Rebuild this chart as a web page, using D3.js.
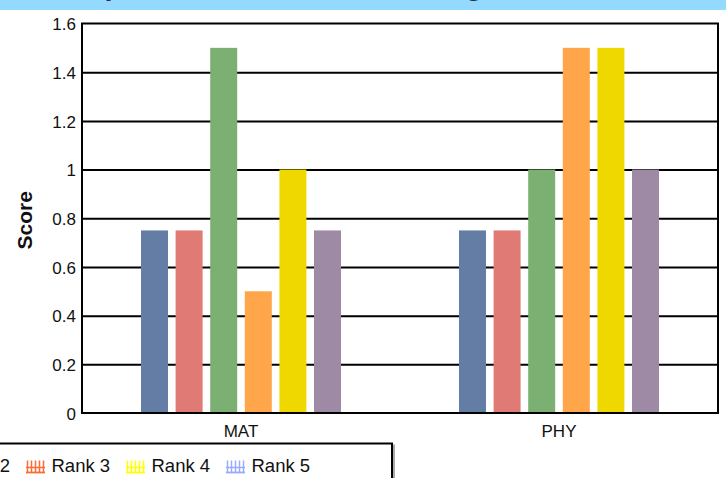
<!DOCTYPE html>
<html>
<head>
<meta charset="utf-8">
<script src="https://cdn.jsdelivr.net/npm/d3@7"></script>
<style>
  html, body { margin: 0; padding: 0; background: #fff; overflow: hidden; }
  svg { display: block; font-family: "Liberation Sans", Arial, sans-serif; }
</style>
</head>
<body>
<svg id="chart" width="726" height="478"></svg>
<script>
// ---- data ----
const categories = ["MAT", "PHY"];
const seriesNames = ["Rank 0", "Rank 1", "Rank 2", "Rank 3", "Rank 4", "Rank 5"];
const rank0 = [0.75, 0.75];
const rank1 = [0.75, 0.75];
const rank2 = [1.5, 1.0];
const rank3 = [0.5, 1.5];
const rank4 = [1.0, 1.5];
const rank5 = [0.75, 1.0];
const seriesValues = [rank0, rank1, rank2, rank3, rank4, rank5];
const yTicks = [0, 0.2, 0.4, 0.6, 0.8, 1, 1.2, 1.4, 1.6];
const yTickLabels = ["0", "0.2", "0.4", "0.6", "0.8", "1", "1.2", "1.4", "1.6"];
const barColors = ["#647da4", "#e07a74", "#7cb072", "#ffa64a", "#eed800", "#9e8aa4"];
const legendColors = ["#66cc66", "#cc66cc", "#33cccc", "#ff6a33", "#ffff00", "#9aaaff"];
const titleText = "Comparison of Student Rankings";
const yAxisTitle = "Score";

// ---- layout ----
const svg = d3.select("#chart");
const W = 726, H = 478;
const plot = { left: 82, right: 718, top: 23.5, bottom: 413 };

// title band (mostly cut off at the top)
svg.append("rect").attr("x", 0).attr("y", 0).attr("width", W).attr("height", 10)
  .attr("fill", "#94d9ff");
svg.append("text").attr("x", 40).attr("y", -5.5)
  .attr("font-size", 29).attr("font-weight", "bold").attr("fill", "#333")
  .text(titleText);

const x0 = d3.scaleBand().domain(categories).range([plot.left, plot.right]).padding(0);
const x1 = d3.scaleBand().domain(seriesNames).range([59, 259]).paddingInner(0.22).paddingOuter(0);
const y = d3.scaleLinear().domain([0, 1.6]).range([plot.bottom, plot.top]);

// y tick labels
const yAxis = d3.axisLeft(y).tickValues(yTicks)
  .tickFormat((d, i) => yTickLabels[i])
  .tickSize(0).tickPadding(6);
const gy = svg.append("g").attr("transform", `translate(${plot.left},0)`).call(yAxis);
gy.select(".domain").remove();
gy.selectAll("text").attr("font-size", 17).attr("fill", "#111")
  .attr("font-family", "Liberation Sans, Arial, sans-serif")
  .attr("x", -6).attr("dy", "0.36em");

// gridlines
const grid = d3.axisLeft(y).tickValues(yTicks.slice(1, -1))
  .tickSize(-(plot.right - plot.left)).tickFormat("");
const gg = svg.append("g").attr("transform", `translate(${plot.left},0)`).call(grid);
gg.select(".domain").remove();
gg.selectAll("line").attr("stroke", "#000").attr("stroke-width", 2);

// bars
const groups = svg.append("g").selectAll("g").data(categories).join("g")
  .attr("transform", d => `translate(${x0(d)},0)`);
groups.selectAll("rect")
  .data((c, ci) => seriesNames.map((s, si) => ({ s, si, v: seriesValues[si][ci] })))
  .join("rect")
  .attr("x", d => x1(d.s))
  .attr("width", x1.bandwidth())
  .attr("y", d => y(d.v))
  .attr("height", d => y(0) - y(d.v))
  .attr("fill", d => barColors[d.si]);

// plot border
svg.append("rect")
  .attr("x", plot.left).attr("y", plot.top)
  .attr("width", plot.right - plot.left).attr("height", plot.bottom - plot.top)
  .attr("fill", "none").attr("stroke", "#000").attr("stroke-width", 2);

// x axis labels
const xAxis = d3.axisBottom(x0).tickSize(0).tickPadding(0);
const gx = svg.append("g").attr("transform", `translate(0,${plot.bottom})`).call(xAxis);
gx.select(".domain").remove();
gx.selectAll("text").attr("font-size", 17).attr("fill", "#111")
  .attr("font-family", "Liberation Sans, Arial, sans-serif")
  .attr("y", 24).attr("dy", 0);

// y axis title
svg.append("text")
  .attr("transform", `translate(32,${(plot.top + plot.bottom) / 2 + 2}) rotate(-90)`)
  .attr("text-anchor", "middle")
  .attr("font-size", 21).attr("font-weight", "bold").attr("fill", "#111")
  .text(yAxisTitle);

// legend (partially outside the window)
const legendRight = 392, legendTop = 443.5;
svg.append("rect").attr("x", -330 + 2).attr("y", legendTop + 2)
  .attr("width", legendRight + 330).attr("height", 80)
  .attr("fill", "none").attr("stroke", "#aaa").attr("stroke-width", 2);
svg.append("rect").attr("x", -330).attr("y", legendTop)
  .attr("width", legendRight + 330).attr("height", 80)
  .attr("fill", "#fff").attr("stroke", "#000").attr("stroke-width", 2);

const legendX = d3.scaleLinear().domain([0, 5]).range([-274, 226]);
const items = svg.append("g").selectAll("g").data(seriesNames).join("g")
  .attr("transform", (d, i) => `translate(${legendX(i)},0)`);
items.each(function (d, i) {
  const g = d3.select(this);
  const c = legendColors[i];
  const xs = d3.range(5).map(k => 1.5 + k * 4);
  g.selectAll("line.v").data(xs).join("line").attr("class", "v")
    .attr("x1", v => v).attr("x2", v => v).attr("y1", 460.5).attr("y2", 473)
    .attr("stroke", c).attr("stroke-width", 1.5);
  g.append("line").attr("x1", 0).attr("x2", 19).attr("y1", 467.5).attr("y2", 467.5)
    .attr("stroke", c).attr("stroke-width", 1.5);
  g.append("line").attr("x1", 0).attr("x2", 19).attr("y1", 472.5).attr("y2", 472.5)
    .attr("stroke", c).attr("stroke-width", 1.8);
  g.append("text").attr("x", 25.5).attr("y", 472)
    .attr("font-size", 18.5).attr("fill", "#111").text(d);
});
</script>
</body>
</html>
